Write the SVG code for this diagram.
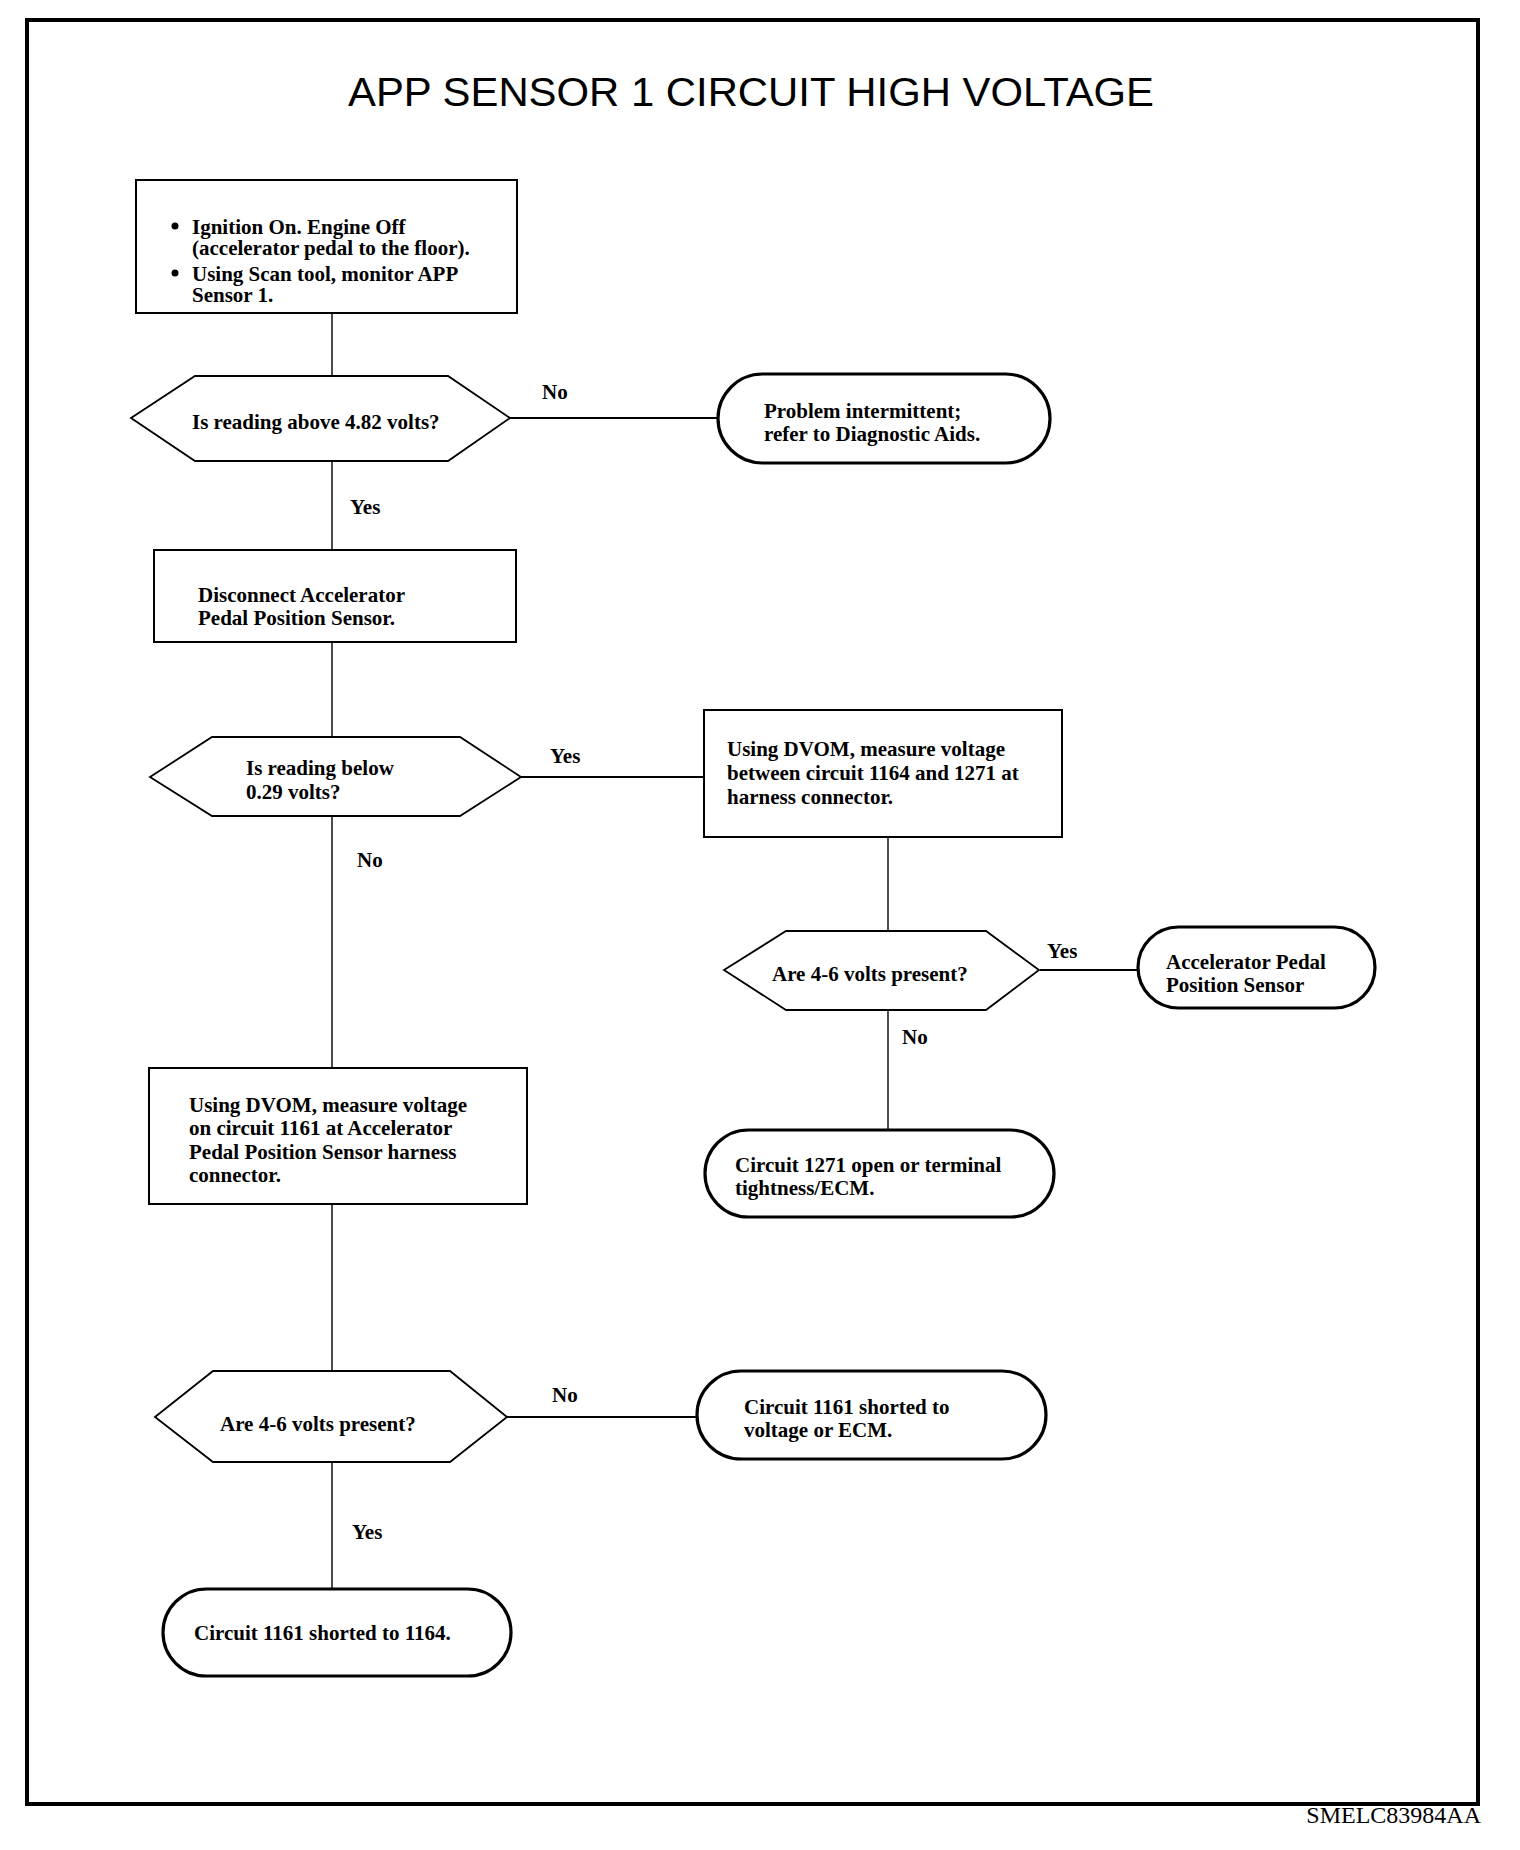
<svg xmlns="http://www.w3.org/2000/svg" width="1520" height="1850" viewBox="0 0 1520 1850">
<style>
.t{font-family:"Liberation Serif","Times New Roman",serif;font-size:21px;font-weight:bold;fill:#000}
.box{fill:#fff;stroke:#000;stroke-width:2}
.dia{fill:#fff;stroke:#000;stroke-width:1.8}
.pill{fill:#fff;stroke:#000;stroke-width:3.2}
.c{stroke:#000;stroke-width:1.4;fill:none}
.ch{stroke:#000;stroke-width:2;fill:none}
</style>
<rect x="0" y="0" width="1520" height="1850" fill="#fff"/>
<rect x="27" y="20" width="1451" height="1784" fill="none" stroke="#000" stroke-width="4"/>
<text x="751" y="106" text-anchor="middle" font-family="Liberation Sans, Arial, sans-serif" font-size="41" textLength="806" lengthAdjust="spacingAndGlyphs">APP SENSOR 1 CIRCUIT HIGH VOLTAGE</text>
<text x="1481" y="1823" text-anchor="end" font-family="Liberation Serif, Times New Roman, serif" font-size="24">SMELC83984AA</text>

<g id="connectors">
<line class="c" x1="332" y1="313" x2="332" y2="376"/>
<line class="c" x1="332" y1="461" x2="332" y2="550"/>
<line class="c" x1="332" y1="642" x2="332" y2="737"/>
<line class="c" x1="332" y1="816" x2="332" y2="1068"/>
<line class="c" x1="332" y1="1204" x2="332" y2="1371"/>
<line class="c" x1="332" y1="1462" x2="332" y2="1589"/>
<line class="ch" x1="510" y1="418" x2="718" y2="418"/>
<line class="ch" x1="521" y1="777" x2="704" y2="777"/>
<line class="c" x1="888" y1="837" x2="888" y2="931"/>
<line class="c" x1="888" y1="1010" x2="888" y2="1129"/>
<line class="ch" x1="1040" y1="970" x2="1140" y2="970"/>
<line class="ch" x1="507" y1="1417" x2="698" y2="1417"/>
<text class="t" x="542" y="399">No</text>
<text class="t" x="350" y="514">Yes</text>
<text class="t" x="550" y="763">Yes</text>
<text class="t" x="357" y="867">No</text>
<text class="t" x="1047" y="958">Yes</text>
<text class="t" x="902" y="1044">No</text>
<text class="t" x="552" y="1402">No</text>
<text class="t" x="352" y="1539">Yes</text>
</g>

<g id="start">
<rect class="box" x="136" y="180" width="381" height="133"/>
<circle cx="175" cy="226" r="3.5"/>
<circle cx="175" cy="273" r="3.5"/>
<text class="t" x="192" y="234">Ignition On. Engine Off</text>
<text class="t" x="192" y="255">(accelerator pedal to the floor).</text>
<text class="t" x="192" y="281">Using Scan tool, monitor APP</text>
<text class="t" x="192" y="302">Sensor 1.</text>
</g>

<g id="d1">
<polygon class="dia" points="131,418 195,376 448,376 510,418 448,461 195,461"/>
<text class="t" x="192" y="429">Is reading above 4.82 volts?</text>
</g>

<g id="intermittent">
<rect class="pill" x="718" y="374" width="332" height="89" rx="44.5" ry="44.5"/>
<text class="t" x="764" y="418">Problem intermittent;</text>
<text class="t" x="764" y="441">refer to Diagnostic Aids.</text>
</g>

<g id="disconnect">
<rect class="box" x="154" y="550" width="362" height="92"/>
<text class="t" x="198" y="602">Disconnect Accelerator</text>
<text class="t" x="198" y="625">Pedal Position Sensor.</text>
</g>

<g id="d2">
<polygon class="dia" points="150,777 212,737 460,737 521,777 460,816 212,816"/>
<text class="t" x="246" y="775">Is reading below</text>
<text class="t" x="246" y="799">0.29 volts?</text>
</g>

<g id="measure1164">
<rect class="box" x="704" y="710" width="358" height="127"/>
<text class="t" x="727" y="756">Using DVOM, measure voltage</text>
<text class="t" x="727" y="780">between circuit 1164 and 1271 at</text>
<text class="t" x="727" y="804">harness connector.</text>
</g>

<g id="d3">
<polygon class="dia" points="724,970 786,931 986,931 1039,970 986,1010 786,1010"/>
<text class="t" x="772" y="981">Are 4-6 volts present?</text>
</g>

<g id="aps">
<rect class="pill" x="1138" y="927" width="237" height="81" rx="40.5" ry="40.5"/>
<text class="t" x="1166" y="969">Accelerator Pedal</text>
<text class="t" x="1166" y="992">Position Sensor</text>
</g>

<g id="c1271">
<rect class="pill" x="705" y="1130" width="349" height="87" rx="43.5" ry="43.5"/>
<text class="t" x="735" y="1172">Circuit 1271 open or terminal</text>
<text class="t" x="735" y="1195">tightness/ECM.</text>
</g>

<g id="measure1161">
<rect class="box" x="149" y="1068" width="378" height="136"/>
<text class="t" x="189" y="1112">Using DVOM, measure voltage</text>
<text class="t" x="189" y="1135">on circuit 1161 at Accelerator</text>
<text class="t" x="189" y="1159">Pedal Position Sensor harness</text>
<text class="t" x="189" y="1182">connector.</text>
</g>

<g id="d4">
<polygon class="dia" points="155,1417 213,1371 450,1371 507,1417 450,1462 213,1462"/>
<text class="t" x="220" y="1431">Are 4-6 volts present?</text>
</g>

<g id="c1161volt">
<rect class="pill" x="697" y="1371" width="349" height="88" rx="44" ry="44"/>
<text class="t" x="744" y="1414">Circuit 1161 shorted to</text>
<text class="t" x="744" y="1437">voltage or ECM.</text>
</g>

<g id="c1161to1164">
<rect class="pill" x="163" y="1589" width="348" height="87" rx="43.5" ry="43.5"/>
<text class="t" x="194" y="1640">Circuit 1161 shorted to 1164.</text>
</g>
</svg>
